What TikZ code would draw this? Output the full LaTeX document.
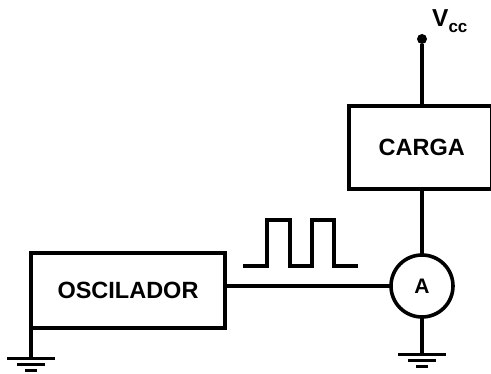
\documentclass[tikz,border=0pt]{standalone}
\usepackage{fontspec}
\setmainfont{Liberation Sans}
\usetikzlibrary{positioning}
\tikzset{%
    block/.style={rectangle, draw, line width=4.3pt, outer sep=0pt, font=\fontsize{23.5}{23.5}\selectfont\bfseries},
    meter/.style={circle, draw, line width=3.6pt, outer sep=0pt, minimum size=62pt, inner sep=0pt, font=\fontsize{21}{21}\selectfont\bfseries},
    wire/.style={draw, line width=3.8pt},
    thinwire/.style={draw, line width=3.2pt},
    terminal/.style={circle, fill, inner sep=0pt, minimum size=10pt},
    ground/.pic={
        \draw[line width=3pt] (-24,0) -- (24,0);
        \draw[line width=3pt] (-14,6) -- (14,6);
        \draw[line width=3pt] (-6,12) -- (6,12);
    }
}

\begin{document}
\begin{tikzpicture}[x=1pt, y=-1pt]
    \useasboundingbox (0,0) rectangle (491,374);
    \node[block, minimum width=194pt, minimum height=75pt] (oscilador) at (128,290.5) {OSCILADOR};
    \node[meter] (ampere) at (422,286) {A};
    \node[block, minimum width=143.4pt, minimum height=83pt, anchor=north] (carga) at (420.7,106) {\hspace*{2pt}CARGA};
    \node[terminal] (vcc) at (422,39) {};
    \node[anchor=base west, inner sep=0pt, font=\fontsize{24.5}{24.5}\selectfont\bfseries] (vcclabel) at (432,27) {V\raisebox{-6pt}{\fontsize{17}{17}\selectfont cc}};
    \coordinate (tierraosc) at (31,359);
    \coordinate (tierraamp) at (422,355);
    \coordinate (pulsoa) at (243,266);
    \coordinate (pulsob) at (358,266);

    \path[wire, line width=4.4pt] (vcc) -- (vcc |- carga.north);
    \path[wire, line width=4.4pt] (vcc |- carga.south) -- (ampere);
    \path[wire] (oscilador.east |- ampere) -- (ampere);
    \path[thinwire] (oscilador.south west) -- (tierraosc);
    \path[thinwire] (ampere) -- (tierraamp);
    \path[wire] (pulsoa) -- ++(24,0) -- ++(0,-46) -- ++(23,0) -- ++(0,46) -- ++(22,0) -- ++(0,-46) -- ++(22,0) -- ++(0,46) -- (pulsob);
    \pic at (tierraosc) {ground};
    \pic at (tierraamp) {ground};
\end{tikzpicture}
\end{document}
